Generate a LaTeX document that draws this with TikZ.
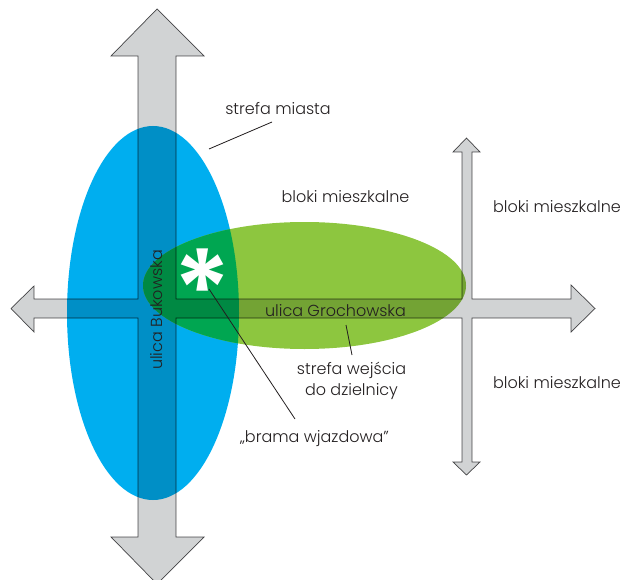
\documentclass[tikz,border=0pt]{standalone}
\usepackage{fontspec}
\setmainfont{Poppins}[UprightFont={* Light}, BoldFont={* Bold}]
\newfontfamily\gwiazdkafont{Poppins}[UprightFont={* SemiBold}]
\usetikzlibrary{calc}
\definecolor{miasto}{HTML}{00AEEF}
\definecolor{wejscie}{HTML}{8DC63F}
\definecolor{wspolne}{HTML}{00A651}
\definecolor{drogi}{HTML}{D1D3D4}
\definecolor{kontur}{HTML}{4D4D4F}
\definecolor{napis}{HTML}{231F20}

\begin{document}
\begin{tikzpicture}[x=1pt,y=-1pt,
  lbl/.style={font=\fontsize{16}{21}\selectfont, text=napis, inner sep=0pt, anchor=base},
  leader/.style={draw=napis, line width=0.8pt}]
\useasboundingbox (0,0) rectangle (623,580);

% strefy
\fill[miasto] (153,313) ellipse [x radius=86, y radius=187];
\fill[wejscie] (304.5,285.5) ellipse [x radius=161.5, y radius=63.5];
\begin{scope}
\clip (153,313) ellipse [x radius=86, y radius=187];
\fill[wspolne] (304.5,285.5) ellipse [x radius=161.5, y radius=63.5];
\end{scope}

% ulice
\begin{scope}[blend mode=multiply]
\path[fill=drogi, draw=kontur, line width=0.7pt]
  (157,9) -- (204,56) -- (176,56) -- (176,299) -- (462,299) -- (462,152)
  -- (453,152) -- (466.5,138) -- (480,152) -- (472,152) -- (472,299)
  -- (571,299) -- (571,285) -- (595,308.5) -- (571,332) -- (571,318)
  -- (472,318) -- (472,462) -- (480,462) -- (466.5,475) -- (453,462)
  -- (462,462) -- (462,318) -- (176,318) -- (176,537) -- (204,537)
  -- (157,584) -- (111,537) -- (138,537) -- (138,318) -- (34,318)
  -- (34,332) -- (11,308.5) -- (34,286) -- (34,299) -- (138,299)
  -- (138,56) -- (111,56) -- cycle;
\end{scope}

\node[lbl] (Bukowska) at (162,310) [rotate=90] {ulica Bukowska};
\node[lbl] (Grochowska) at (335.5,316) {ulica Grochowska};
\node[lbl] (Miasto) at (278,115) {strefa miasta};
\node[lbl] (BlokiA) at (345.5,202) {bloki mieszkalne};
\node[lbl] (BlokiB) at (557,212) {bloki mieszkalne};
\node[lbl] (BlokiC) at (557,388) {bloki mieszkalne};
\node[lbl, anchor=center, align=center] (Wejscie) at (351.5,381)
  {strefa wejścia\\do dzielnicy};
\node[lbl] (Brama) at (314.5,442) {„brama wjazdowa”};
\node[text=white, font=\fontsize{112}{112}\gwiazdkafont, inner sep=0pt]
  (Gwiazdka) at (203,290) {*};

\coordinate (MiastoA) at (272,122);
\coordinate (MiastoB) at (209,149);
\coordinate (WejscieA) at (352,355);
\coordinate (WejscieB) at (346,325);
\coordinate (BramaA) at (295,419);
\coordinate (BramaB) at (209,289);
\draw[leader] (MiastoA) -- (MiastoB);
\draw[leader] (WejscieA) -- (WejscieB);
\draw[leader] (BramaA) -- (BramaB);
\end{tikzpicture}
\end{document}
